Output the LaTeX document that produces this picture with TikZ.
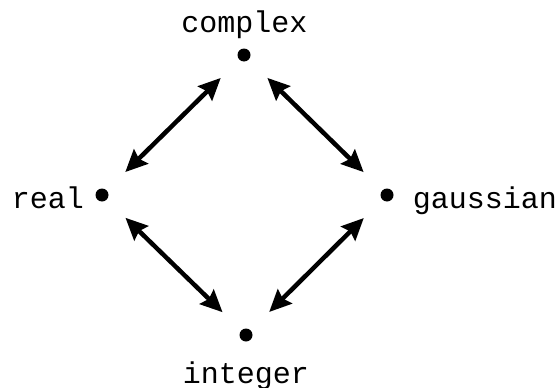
\documentclass[tikz,border=0pt]{standalone}
\usepackage{fontspec}
\setmonofont{Liberation Mono}
\usetikzlibrary{arrows.meta}
\tikzset{
  dot/.style={circle,fill=black,inner sep=0pt,minimum size=13pt},
  lbl/.style={font=\ttfamily\fontsize{30}{30}\selectfont,inner sep=0pt,anchor=base},
  tip/.tip={Stealth[length=22pt,width=20pt,inset=3pt]},
  link/.style={line width=4.5pt,{tip}-{tip},
    shorten <=26pt,shorten >=26pt}
}
\begin{document}
\begin{tikzpicture}[x=1pt,y=-1pt]
  \useasboundingbox (0,0) rectangle (557,388);
  % the four points of the diamond
  \node[dot] (c) at (244,55) {};
  \node[dot] (r) at (102,195) {};
  \node[dot] (g) at (387,195) {};
  \node[dot] (i) at (246,335) {};
  % labels
  \node[lbl] (lc) at (244.5,32) {complex};
  \node[lbl] (lr) at (48,208) {real};
  \node[lbl] (lg) at (485,208) {gaussian};
  \node[lbl] (li) at (246,383) {integer};
  % two-way links
  \draw[link] (r) -- (c);
  \draw[link] (c) -- (g);
  \draw[link] (r) -- (i);
  \draw[link] (i) -- (g);
\end{tikzpicture}
\end{document}
